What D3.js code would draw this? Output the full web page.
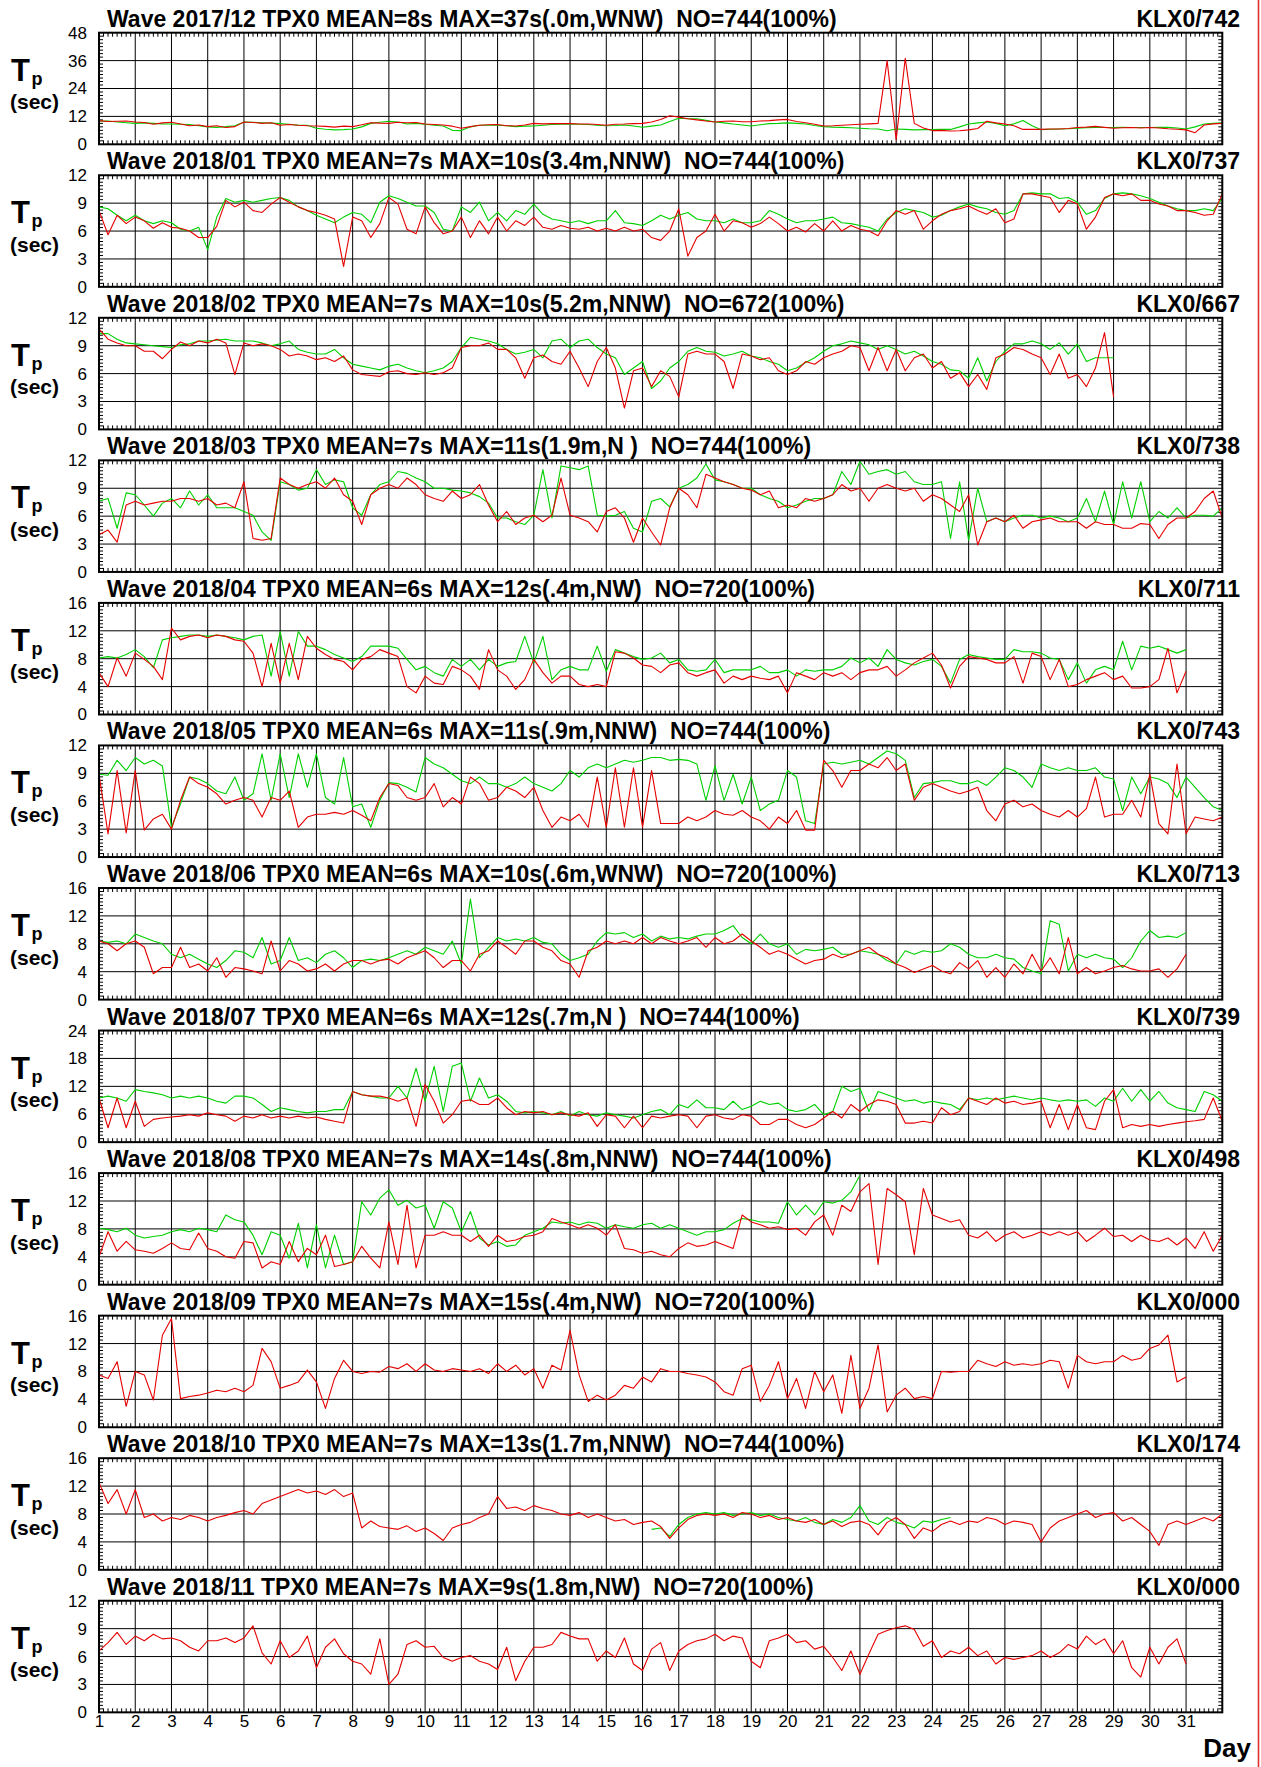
<!DOCTYPE html>
<html><head><meta charset="utf-8">
<script src="https://cdn.jsdelivr.net/npm/d3@7"></script>
<style>
body{margin:0;background:#fff;}
svg text{font-family:"Liberation Sans",Arial,Helvetica,sans-serif;}
</style></head><body>
<svg id="chart" width="1261" height="1767"></svg>
<script>
// ---- Data: peak period Tp (sec), sampled every 6 hours (0.25 day) from day 1 ----
const monthTitles = [
  "Wave 2017/12 TPX0 MEAN=8s MAX=37s(.0m,WNW)  NO=744(100%)",
  "Wave 2018/01 TPX0 MEAN=7s MAX=10s(3.4m,NNW)  NO=744(100%)",
  "Wave 2018/02 TPX0 MEAN=7s MAX=10s(5.2m,NNW)  NO=672(100%)",
  "Wave 2018/03 TPX0 MEAN=7s MAX=11s(1.9m,N )  NO=744(100%)",
  "Wave 2018/04 TPX0 MEAN=6s MAX=12s(.4m,NW)  NO=720(100%)",
  "Wave 2018/05 TPX0 MEAN=6s MAX=11s(.9m,NNW)  NO=744(100%)",
  "Wave 2018/06 TPX0 MEAN=6s MAX=10s(.6m,WNW)  NO=720(100%)",
  "Wave 2018/07 TPX0 MEAN=6s MAX=12s(.7m,N )  NO=744(100%)",
  "Wave 2018/08 TPX0 MEAN=7s MAX=14s(.8m,NNW)  NO=744(100%)",
  "Wave 2018/09 TPX0 MEAN=7s MAX=15s(.4m,NW)  NO=720(100%)",
  "Wave 2018/10 TPX0 MEAN=7s MAX=13s(1.7m,NNW)  NO=744(100%)",
  "Wave 2018/11 TPX0 MEAN=7s MAX=9s(1.8m,NW)  NO=720(100%)"
];
const stationCodes = ["KLX0/742","KLX0/737","KLX0/667","KLX0/738","KLX0/711","KLX0/743",
                      "KLX0/713","KLX0/739","KLX0/498","KLX0/000","KLX0/174","KLX0/000"];
const yMaxima = [48,12,12,12,16,12,16,24,16,16,16,12];
const dayTicks = d3.range(1,32);

const dec17Red = [10.2,9.8,9.9,10.0, 9.6,9.4,8.6,9.2, 9.5,8.7,8.0,8.3, 7.6,8.0,7.2,7.6, 9.6,9.4,9.0,9.3,
 8.2,8.5,8.2,8.0, 7.9,7.7,7.4,7.8, 7.6,8.4,9.3,9.1, 9.0,9.5,9.3,9.4, 8.7,8.5,8.3,7.8,
 6.9,7.6,8.2,8.4, 8.5,8.0,7.9,8.3, 9.0,8.8,8.9,8.9, 8.9,8.7,8.7,8.5, 8.2,8.6,8.7,8.9,
 9.0,9.6,10.7,12.3, 11.7,11.0,10.5,10.0, 9.6,9.9,10.0,9.7, 9.7,10.0,10.2,10.5, 10.7,9.8,9.3,8.6,
 7.9,8.0,8.2,8.4, 8.6,8.8,9.0,36.0, 2.0,37.0,9.0,7.0, 5.9,6.0,5.7,5.8, 6.2,6.8,9.9,9.2,
 8.7,8.0,6.4,6.5, 6.4,6.6,6.6,6.8, 7.2,7.4,7.7,7.3, 6.9,7.1,7.2,7.0, 7.2,7.0,6.7,6.5,
 6.2,5.0,8.3,8.8, 9.0];
const dec17Green = [9.9,10.0,9.6,9.3, 9.0,9.2,9.0,8.8, 8.7,8.6,8.5,8.0, 7.5,7.3,7.6,8.0, 9.6,9.5,9.3,9.1,
 8.9,8.6,8.2,8.2, 6.9,6.5,6.2,6.3, 6.6,7.5,9.0,9.5, 9.9,9.6,8.7,9.0, 8.6,8.2,7.9,6.0,
 5.9,7.5,8.2,8.2, 8.2,8.0,7.6,7.8, 7.9,8.2,8.5,8.6, 8.7,8.6,8.5,8.2, 8.0,8.1,8.3,7.9,
 7.3,7.8,8.3,9.8, 11.2,11.0,11.0,10.3, 9.6,9.2,8.7,8.3, 7.9,8.4,8.9,9.0, 9.2,9.0,8.7,8.1,
 7.6,7.4,7.3,7.1, 6.9,6.7,6.6,5.8, 6.6,6.4,6.2,6.3, 6.3,6.4,6.4,7.5, 8.7,9.2,9.6,9.0,
 8.0,8.8,10.2,8.0, 6.3,6.5,6.6,6.7, 6.9,7.1,7.3,7.2, 7.2,7.3,7.2,7.2, 7.2,7.3,7.3,7.0,
 6.6,7.5,8.7,9.0, 9.2];

const jan18Red = [8.2,5.6,7.7,6.8, 7.5,7.1,6.3,6.9, 6.4,6.3,6.0,5.3, 5.3,6.5,9.3,8.6, 9.1,8.2,8.0,8.9,
 9.6,9.1,8.6,8.2, 8.0,7.7,7.3,2.2, 7.5,7.1,5.3,6.8, 9.6,8.9,6.2,5.7, 8.6,6.9,5.7,6.0,
 7.5,5.3,7.1,5.7, 7.5,6.0,7.1,6.6, 7.5,6.4,6.2,6.6, 6.3,6.2,6.4,6.0, 6.3,6.0,6.4,6.0,
 6.2,5.3,5.0,6.0, 8.4,3.3,5.3,6.0, 7.8,6.0,7.1,6.9, 6.4,6.8,7.5,6.8, 6.0,6.4,5.9,6.8,
 6.0,7.1,6.0,6.6, 6.2,6.0,5.5,7.1, 8.2,7.8,8.2,6.2, 7.1,7.8,8.2,8.4, 8.7,8.2,7.8,8.4,
 6.9,7.3,10.0,10.0, 9.8,9.6,8.0,9.3, 8.9,6.2,7.5,9.6, 10.0,9.8,10.0,9.3, 9.3,8.9,8.7,8.2,
 8.2,8.0,7.7,7.8, 10.0];
const jan18Green = [8.6,8.4,7.7,7.1, 7.7,7.1,6.8,7.1, 6.9,6.2,6.0,6.4, 4.0,7.5,9.5,9.1, 9.3,9.1,9.3,9.5,
 9.6,9.3,8.6,8.2, 7.7,7.3,6.9,7.5, 8.0,7.8,6.9,9.1, 9.8,9.5,9.1,8.7, 8.7,8.0,6.2,6.0,
 8.6,8.0,9.1,7.1, 8.0,7.1,8.2,7.8, 8.9,7.8,7.3,7.1, 6.9,7.1,6.8,7.1, 7.1,8.2,6.9,6.8,
 6.6,7.1,7.7,7.3, 7.7,8.0,7.3,7.1, 7.1,6.9,7.3,6.9, 6.9,7.1,8.2,7.8, 7.3,6.9,7.1,7.1,
 7.3,7.5,6.9,6.8, 6.6,6.4,6.0,7.3, 8.0,8.4,8.2,8.0, 7.5,7.7,8.2,8.6, 8.9,8.6,8.4,8.0,
 7.8,8.2,10.0,10.1, 10.0,10.0,9.5,9.6, 9.1,7.8,8.2,9.5, 10.0,10.1,10.0,9.8, 9.5,9.1,8.7,8.4,
 8.2,8.2,8.4,8.2, 9.5];

const feb18Red = [10.8,9.7,9.3,9.0, 9.0,8.4,8.4,7.6, 8.6,9.4,9.0,9.5, 9.3,9.7,9.3,5.9, 9.3,9.0,9.2,9.0,
 8.6,7.9,8.1,7.9, 7.5,7.7,7.3,7.9, 6.4,5.9,5.8,5.7, 6.2,6.3,6.0,5.9, 6.1,5.9,6.1,6.6,
 8.8,9.0,9.0,9.3, 8.6,8.6,7.7,5.5, 7.7,8.0,7.3,7.0, 8.4,6.6,4.6,7.3, 8.8,6.6,2.3,6.3,
 6.6,4.6,6.3,5.7, 3.5,8.1,8.4,8.1, 8.1,7.3,4.4,8.1, 7.9,7.5,7.7,6.3, 5.9,6.3,7.3,7.0,
 7.7,8.1,8.4,9.0, 8.8,6.3,8.8,6.3, 8.6,6.3,7.7,8.1, 6.6,7.3,5.5,6.1, 4.6,5.9,4.3,7.7,
 8.1,8.8,8.6,8.1, 7.7,5.9,8.1,5.5, 5.9,4.6,6.6,10.4, 3.5];
const feb18Green = [10.3,10.3,9.7,9.3, 9.2,9.1,9.0,8.9, 8.8,9.1,9.2,9.5, 9.5,9.6,9.7,9.5, 9.5,9.5,9.3,9.0,
 9.2,9.5,8.6,8.3, 8.1,8.1,8.6,7.7, 7.0,6.8,6.6,6.4, 6.8,7.0,6.6,6.3, 6.1,6.3,6.6,7.3,
 8.8,9.9,9.7,9.5, 9.2,8.6,8.1,8.3, 8.6,7.7,9.5,9.7, 8.8,9.5,9.7,8.8, 8.1,7.7,5.9,6.6,
 7.3,4.4,5.2,6.6, 7.3,8.4,8.8,8.4, 8.3,7.9,8.1,8.4, 7.9,7.7,7.3,7.0, 6.3,6.6,7.2,7.7,
 8.4,9.0,9.2,9.5, 9.3,9.1,8.6,9.0, 8.6,8.1,8.4,7.9, 7.3,7.0,6.4,6.3, 5.5,7.7,5.2,7.3,
 8.4,9.2,9.2,9.5, 9.2,8.6,9.3,8.1, 9.2,7.3,7.7,7.7, 7.7];

const mar18Red = [4.0,4.5,3.2,7.2, 7.6,7.2,7.4,7.6, 7.6,7.9,7.9,7.6, 7.9,7.2,7.4,6.9, 9.7,3.6,3.4,3.6,
 10.1,9.4,9.0,9.4, 9.7,9.0,10.1,8.3, 7.6,5.1,8.3,9.0, 9.4,9.0,10.1,9.4, 8.3,7.9,7.6,8.7,
 7.9,8.3,9.4,7.2, 5.4,6.5,5.1,5.8, 6.1,5.4,6.1,10.1, 6.1,5.8,5.4,4.3, 6.5,6.9,5.8,3.2,
 5.8,4.3,2.9,6.9, 9.0,8.3,6.9,10.5, 10.1,9.7,9.4,9.0, 8.8,8.3,8.7,6.9, 7.2,6.9,7.9,7.6,
 7.9,8.3,9.4,8.7, 9.0,7.6,9.0,9.4, 9.0,8.7,9.0,7.6, 8.3,7.9,7.2,6.5, 8.3,2.9,5.4,5.8,
 5.4,6.1,4.7,5.4, 5.6,5.8,5.4,5.4, 5.4,4.7,5.4,5.1, 5.1,4.7,4.7,5.2, 5.1,3.6,5.1,5.8,
 5.8,6.5,7.9,8.7, 5.8];
const mar18Green = [7.6,7.9,4.7,8.5, 8.3,7.2,6.0,7.4, 7.9,6.9,8.7,7.2, 8.3,6.9,6.9,6.9, 6.5,6.1,4.3,3.4,
 9.7,9.4,8.8,9.0, 11.0,9.4,9.9,9.7, 6.9,6.1,8.3,9.4, 9.7,10.8,10.6,10.1, 9.7,9.0,9.0,8.8,
 8.7,8.5,8.1,7.4, 5.8,5.8,5.4,5.1, 6.1,11.0,5.8,11.4, 11.2,11.0,11.4,6.1, 6.0,6.1,6.5,4.7,
 4.3,7.6,7.9,7.0, 9.0,9.4,10.1,11.6, 9.9,9.7,9.4,9.0, 9.0,8.3,7.9,7.6, 6.9,7.2,7.6,7.9,
 7.9,8.3,10.8,9.4, 11.9,10.5,10.8,11.0, 10.5,10.8,9.7,9.4, 9.4,9.7,3.6,9.7, 3.4,9.0,5.4,5.8,
 5.4,5.8,6.1,6.1, 5.8,6.0,5.8,5.4, 5.8,7.9,5.4,8.7, 5.1,9.7,5.8,9.7, 5.4,6.5,5.8,6.9,
 5.8,6.1,6.1,6.0, 6.9];

const apr18Red = [6.0,4.0,8.1,5.5, 8.8,7.9,6.9,5.0, 12.4,10.7,11.2,11.4, 11.0,11.4,11.2,10.7, 10.5,8.8,4.0,10.2,
 4.5,10.2,5.0,11.2, 9.5,8.6,7.9,7.6, 6.4,7.9,8.3,9.3, 8.8,8.3,4.0,3.1, 5.5,4.5,4.3,6.9,
 6.4,5.5,3.6,9.3, 6.4,5.5,3.6,5.0, 7.9,6.0,4.5,5.5, 5.5,4.3,4.0,4.3, 4.0,9.0,8.8,8.1,
 7.1,6.9,6.0,7.1, 7.4,6.0,5.5,6.0, 6.4,4.5,5.5,5.0, 5.5,5.2,5.0,5.5, 3.1,6.0,5.5,5.0,
 6.0,5.5,6.0,5.0, 6.0,6.4,6.4,6.9, 5.5,6.4,7.4,8.1, 8.8,7.1,3.8,6.9, 8.3,8.1,7.9,7.4,
 7.4,8.3,4.5,8.8, 8.3,5.0,7.9,4.0, 4.3,5.0,5.5,6.0, 5.0,5.5,3.8,3.8, 4.0,5.0,9.5,3.1,
 6.2];
const apr18Green = [8.1,8.3,8.1,8.6, 9.3,8.3,6.7,10.7, 11.0,11.2,11.4,11.4, 11.2,11.4,11.2,11.0, 10.7,11.2,11.4,5.5,
 11.9,5.5,11.9,9.8, 9.8,9.3,8.6,8.1, 7.6,8.3,9.8,9.8, 9.8,9.5,7.9,6.4, 6.9,6.0,5.5,7.9,
 6.9,7.9,6.4,7.9, 6.9,7.4,7.6,11.2, 7.4,11.2,5.0,6.4, 6.9,6.4,6.4,9.8, 6.2,9.3,8.8,8.3,
 7.9,8.1,8.8,7.4, 7.9,6.4,6.2,6.4, 7.9,6.0,6.4,6.4, 6.4,6.9,6.0,6.0, 6.4,5.5,6.4,6.2,
 6.4,6.4,6.9,8.1, 7.4,8.1,6.9,9.3, 7.9,7.4,7.1,7.6, 7.9,6.9,4.5,7.9, 8.6,8.3,8.1,7.9,
 7.9,9.3,9.0,9.0, 8.8,8.1,7.9,5.0, 7.4,4.5,6.4,6.9, 6.4,10.5,6.4,9.8, 9.5,9.8,9.3,8.8,
 9.3];

const may18Red = [8.9,2.5,9.3,2.6, 9.3,2.9,4.1,4.6, 3.0,6.1,8.6,7.9, 7.5,6.8,5.7,6.1, 6.4,6.1,4.3,6.4,
 6.1,7.1,3.2,4.3, 4.6,4.6,4.8,4.6, 5.0,4.5,3.9,6.4, 7.9,7.7,6.4,6.1, 6.4,7.9,5.4,6.4,
 5.7,8.6,7.9,6.1, 6.4,7.5,7.1,6.4, 7.5,5.0,3.2,4.3, 3.9,4.6,3.2,8.6, 3.2,9.6,3.2,9.6,
 3.2,9.3,3.6,3.6, 3.6,4.3,3.9,4.3, 5.0,4.6,4.5,5.0, 4.3,3.9,3.0,4.3, 3.6,5.0,2.9,2.9,
 10.4,9.3,7.5,9.3, 9.3,10.0,9.6,10.7, 9.3,10.0,6.1,7.5, 7.9,7.5,7.1,6.8, 7.1,7.5,5.0,3.9,
 5.7,6.1,5.4,5.7, 5.0,4.6,4.3,5.0, 4.3,5.2,8.6,4.3, 4.6,4.6,6.1,4.3, 8.9,3.6,2.5,10.0,
 2.5,4.3,4.1,3.9, 4.3];
const may18Green = [8.9,8.8,10.4,9.3, 10.7,10.0,10.4,9.8, 3.2,5.7,8.6,8.4, 7.9,7.1,6.8,8.6, 6.1,6.8,11.1,6.1,
 11.1,6.4,11.1,7.5, 11.1,6.4,5.7,10.7, 5.4,5.7,3.2,6.1, 8.0,7.9,7.5,7.0, 10.7,10.0,9.6,8.9,
 8.2,7.9,8.6,7.9, 7.9,7.5,7.9,8.6, 7.9,7.5,7.1,7.9, 9.3,8.6,9.6,10.0, 9.6,10.0,10.4,10.2,
 10.4,10.7,10.7,10.4, 10.5,10.4,10.0,6.1, 9.8,6.1,8.9,5.7, 8.6,5.0,5.7,6.1, 9.3,8.6,3.9,3.6,
 10.0,10.2,10.0,10.2, 10.4,10.0,10.7,11.4, 11.1,10.4,6.4,7.9, 8.0,8.2,8.2,7.9, 7.9,8.2,7.7,8.6,
 9.6,9.3,8.6,7.5, 10.0,9.6,9.3,9.6, 9.3,9.3,9.6,8.6, 8.4,5.0,8.6,6.8, 8.6,8.4,7.9,6.4,
 8.6,7.5,6.4,5.4, 5.0];

const jun18Red = [8.4,8.0,7.0,8.0, 8.4,7.5,3.7,4.6, 4.6,7.5,4.6,5.1, 4.1,6.0,3.2,4.6, 4.4,4.1,3.7,8.4,
 4.1,5.6,5.1,4.1, 4.4,5.1,4.1,5.1, 5.6,5.6,5.1,5.6, 5.8,5.1,6.0,6.5, 7.0,6.0,4.6,5.6,
 5.6,4.1,6.5,7.0, 8.4,7.5,6.5,8.4, 8.4,7.5,7.0,5.6, 5.1,3.2,7.0,7.5, 8.4,8.0,8.4,8.0,
 8.9,8.0,8.9,8.4, 8.0,8.4,8.9,7.5, 8.9,8.0,8.4,9.4, 8.4,7.5,6.5,7.0, 6.5,5.8,5.1,5.6,
 5.8,6.5,6.0,6.5, 7.0,7.5,6.5,6.0, 5.1,4.6,3.9,4.4, 4.9,4.1,3.7,5.3, 4.4,5.6,3.2,4.6,
 3.2,5.1,3.7,6.5, 4.1,6.0,3.7,8.9, 3.7,4.6,3.7,4.1, 4.6,4.9,4.4,4.1, 4.1,4.4,3.2,4.4,
 6.5];
const jun18Green = [8.4,8.2,8.4,8.0, 9.4,8.9,8.4,8.0, 6.5,6.0,6.5,5.8, 5.1,4.6,5.6,7.0, 6.8,6.0,8.9,5.1,
 5.6,8.9,5.6,6.0, 5.3,6.5,7.0,6.0, 4.6,5.6,5.8,5.6, 6.0,6.5,7.0,6.5, 7.5,7.0,6.5,8.4,
 5.1,14.4,6.0,7.5, 8.9,8.4,8.7,8.4, 8.9,8.2,8.0,6.5, 5.6,6.0,6.5,8.4, 9.6,9.4,9.6,8.9,
 9.4,8.4,9.1,8.7, 8.9,8.7,9.1,9.4, 9.4,9.9,10.6,8.9, 8.0,9.4,8.0,7.5, 8.0,6.5,7.2,7.0,
 7.2,7.5,6.5,6.5, 7.0,6.8,6.5,5.6, 5.1,7.0,6.5,7.0, 6.8,7.0,8.0,7.5, 6.5,6.0,6.0,6.5,
 6.0,5.8,4.6,4.1, 3.7,11.3,10.8,4.1, 6.5,6.0,6.5,6.0, 5.8,4.6,6.0,8.4, 9.9,8.9,9.1,8.9,
 9.6];

const jul18Red = [9.5,3.1,9.5,3.1, 8.8,3.4,4.9,5.2, 5.4,5.6,5.9,5.6, 6.3,5.9,5.6,4.5, 5.6,5.2,5.9,5.2,
 5.6,5.2,5.6,5.2, 5.4,4.9,4.5,4.1, 10.9,10.2,9.9,9.9, 9.5,8.8,9.5,3.4, 12.4,8.8,4.1,5.9,
 8.8,9.1,8.1,8.1, 9.5,7.4,5.9,6.6, 6.3,6.6,5.9,6.3, 5.9,5.6,6.3,3.4, 5.9,5.6,3.1,5.6,
 3.1,5.6,5.2,5.6, 5.9,5.6,3.1,5.6, 5.9,5.2,4.9,5.9, 5.6,3.8,3.8,4.9, 4.9,3.8,3.1,3.8,
 5.2,6.6,5.2,8.1, 6.6,8.1,9.1,8.8, 8.1,4.1,4.1,4.5, 4.1,7.4,5.9,6.6, 9.5,8.8,8.1,9.5,
 8.4,8.8,8.1,8.4, 8.8,3.1,8.1,2.7, 8.1,3.1,2.7,8.8, 11.3,3.1,3.8,3.4, 3.8,3.4,3.8,4.1,
 4.4,4.6,4.9,9.5, 4.5];
const jul18Green = [9.5,9.9,9.5,8.8, 11.3,10.9,10.6,10.2, 9.5,9.9,9.5,9.9, 9.5,8.8,8.4,9.9, 9.9,9.5,8.1,6.6,
 7.4,7.0,6.6,6.3, 6.6,6.6,7.0,7.0, 10.9,10.2,9.9,9.5, 9.5,12.0,9.5,15.9, 8.8,16.3,6.6,16.3,
 17.0,8.8,13.8,9.5, 10.2,8.8,6.6,6.3, 6.6,6.3,5.9,6.6, 5.6,6.6,5.9,5.6, 6.3,5.9,5.6,5.2,
 5.9,6.6,7.0,5.9, 8.1,7.4,9.1,7.4, 7.4,7.0,8.8,7.0, 7.7,8.8,8.1,8.4, 7.0,6.6,7.0,8.1,
 5.9,6.6,12.0,10.9, 11.6,6.6,10.9,10.2, 9.5,8.8,9.1,8.4, 8.8,8.4,8.1,7.0, 9.5,9.1,9.5,9.1,
 9.5,9.9,9.5,9.1, 9.5,9.1,8.8,9.1, 8.8,9.1,7.7,9.5, 8.8,11.6,8.8,11.3, 8.8,10.9,8.4,7.4,
 7.0,6.6,10.9,10.2, 8.8];

const aug18Red = [4.0,7.6,4.8,6.2, 5.0,4.8,4.5,5.2, 6.0,5.2,5.0,7.4, 5.2,4.8,4.0,3.8, 6.2,6.0,2.4,3.3,
 2.9,6.2,3.3,5.2, 4.3,7.1,2.6,2.9, 3.3,5.5,3.8,2.4, 9.0,2.9,11.4,2.4, 7.1,7.1,7.6,7.1,
 7.1,6.2,7.1,5.5, 7.1,6.2,6.4,6.9, 7.1,7.6,9.5,9.0, 8.6,8.1,8.6,8.1, 7.1,8.6,5.2,5.0,
 4.5,4.8,4.3,4.0, 5.2,6.0,5.5,5.7, 6.2,5.7,5.2,10.0, 9.0,8.6,8.1,8.3, 7.9,8.1,7.1,9.0,
 10.0,7.1,11.4,10.5, 13.3,14.5,2.9,13.8, 12.9,11.9,4.3,13.8, 10.0,9.5,9.0,9.3, 7.1,6.7,7.6,6.2,
 7.1,7.6,6.7,7.1, 7.6,7.1,7.6,7.1, 7.6,6.2,7.1,8.1, 6.9,7.1,6.2,7.1, 6.4,6.2,6.7,5.7,
 6.7,5.2,7.6,4.8, 7.1];
const aug18Green = [8.1,7.9,7.6,8.1, 7.1,6.7,6.9,7.1, 7.6,7.9,7.6,8.1, 7.9,7.6,10.0,9.3, 9.0,7.1,4.3,7.6,
 7.1,3.8,8.8,2.4, 8.6,2.4,7.1,2.9, 3.3,11.9,10.0,12.4, 13.6,11.4,12.1,11.0, 11.4,8.1,11.9,11.0,
 7.6,10.5,6.7,5.7, 6.2,5.5,5.7,7.1, 7.6,8.1,9.0,8.8, 9.0,8.6,9.0,8.8, 8.1,8.6,8.3,8.1,
 8.6,8.8,8.1,8.6, 8.1,7.6,7.1,7.6, 7.6,7.9,8.8,9.5, 9.3,9.0,9.0,8.8, 11.9,10.0,11.4,10.0,
 11.9,11.7,12.1,13.3, 15.7];

const sep18Red = [7.5,7.0,9.4,3.0, 8.0,7.5,3.9,13.2, 15.6,4.1,4.4,4.6, 4.9,5.3,5.1,5.6, 5.1,6.0,11.3,9.4,
 5.6,6.0,6.5,8.2, 6.5,2.7,7.0,9.6, 8.0,7.7,8.0,7.9, 8.7,8.4,9.1,8.0, 9.1,8.2,8.0,8.4,
 8.2,8.0,8.4,7.7, 9.1,8.0,8.9,7.5, 8.4,5.6,8.9,8.2, 13.9,7.5,3.7,4.6, 3.9,4.6,6.0,5.6,
 7.2,6.5,8.4,8.0, 8.0,7.7,7.5,7.2, 6.5,5.1,4.6,8.4, 8.9,3.7,6.0,9.4, 4.1,7.0,2.7,8.0,
 5.1,7.5,2.0,10.3, 2.7,5.6,11.8,2.2, 4.6,5.6,4.1,4.4, 4.1,8.0,7.9,8.0, 8.0,9.6,9.1,8.7,
 9.4,8.9,9.1,8.9, 9.1,9.6,9.4,5.6, 10.3,9.4,9.1,9.4, 9.4,10.3,9.6,9.9, 11.3,11.8,13.2,6.5,
 7.2];

const oct18Red = [12.5,9.5,11.5,8.0, 11.5,7.5,8.0,7.0, 7.5,7.2,7.8,7.5, 7.0,7.5,7.8,8.2, 8.5,8.0,9.5,10.0,
 10.5,11.0,11.5,11.0, 11.3,10.8,11.5,10.5, 11.0,6.0,7.0,6.2, 6.0,5.8,6.3,5.5, 6.0,5.2,4.2,6.0,
 6.5,6.8,7.5,8.0, 10.5,8.8,9.0,8.5, 9.2,8.8,8.5,8.0, 7.8,8.2,7.5,8.0, 7.5,7.0,7.2,6.5,
 6.8,7.0,6.2,4.5, 6.0,7.2,7.8,8.0, 7.8,8.0,7.5,8.2, 8.0,7.5,7.8,7.2, 7.5,7.0,6.8,7.2,
 6.5,7.0,6.2,6.8, 7.0,6.5,5.0,6.8, 7.5,6.5,4.5,6.0, 5.5,6.5,7.0,6.5, 7.0,6.8,7.5,7.2,
 6.5,7.0,6.8,6.5, 4.0,6.0,7.0,7.5, 8.0,8.5,7.5,8.0, 8.2,7.0,7.5,6.5, 5.5,3.5,6.5,7.0,
 6.5,7.0,7.5,7.0, 8.0];
const oct18GreenStart = 16.25;
const oct18Green = [5.8,6.0,4.8, 6.5,7.5,8.0,8.2, 8.0,8.2,7.8,8.0, 8.2,7.8,8.0,7.5, 7.2,7.0,7.5,6.8,
 6.5,7.2,6.8,7.5, 9.2,7.0,6.5,7.5, 6.8,6.5,6.0,7.0, 6.8,7.2,7.5];

const nov18Red = [6.6,7.5,8.6,7.3, 8.2,7.7,8.4,7.9, 8.0,7.7,7.0,6.6, 7.7,7.7,8.0,7.5, 8.0,9.3,6.4,5.2,
 7.7,5.9,6.6,8.2, 4.8,7.0,7.9,6.3, 5.5,5.2,4.1,7.9, 3.0,4.1,7.3,7.7, 7.0,7.1,5.9,5.5,
 5.9,6.1,5.5,5.2, 4.6,7.0,3.4,5.5, 7.0,7.0,7.3,8.6, 8.2,7.9,7.9,5.5, 6.6,5.9,8.0,5.2,
 4.5,6.8,7.5,4.5, 6.6,7.3,7.7,7.9, 8.4,7.7,8.2,8.0, 5.5,4.8,7.7,8.0, 8.4,7.5,7.7,6.8,
 7.1,5.9,4.5,6.6, 4.1,6.3,8.4,8.8, 9.1,9.3,8.9,7.1, 7.7,5.9,6.6,6.3, 7.0,6.1,6.6,5.2,
 5.9,5.7,5.9,6.1, 6.6,5.9,6.4,7.3, 6.8,8.2,7.3,7.9, 6.3,7.7,4.8,3.8, 7.0,5.2,7.0,7.9,
 5.2];

// ---- series table built from the arrays above ----
const redSeries = [dec17Red, jan18Red, feb18Red, mar18Red, apr18Red, may18Red, jun18Red, jul18Red, aug18Red, sep18Red, oct18Red, nov18Red];
const greenSeries = [dec17Green, jan18Green, feb18Green, mar18Green, apr18Green, may18Green, jun18Green, jul18Green, aug18Green, null, oct18Green, null];
const greenStarts = [1,1,1,1,1,1,1,1,1,1,oct18GreenStart,1];
const sampleStep = 0.25; // days

// ---- layout ----
const svg = d3.select("#chart");
const X0 = 99, X1 = 1222.3, TOP0 = 32.7, PITCH = 142.55, PH = 111.6;
const x = d3.scaleLinear().domain([1, 32]).range([X0, X1]);
const RED = "#e60000", GREEN = "#00d000";

// right red page border
svg.append("line").attr("x1",1258.5).attr("x2",1258.5).attr("y1",0).attr("y2",1767)
  .attr("stroke","#e03030").attr("stroke-width",1.6);

monthTitles.forEach((title, i) => {
  const top = TOP0 + i * PITCH, bottom = top + PH;
  const ymax = yMaxima[i];
  const y = d3.scaleLinear().domain([0, ymax]).range([bottom, top]);
  const majors = d3.range(0, 5).map(k => k * ymax / 4);
  const g = svg.append("g");

  // horizontal gridlines
  g.selectAll("line.hg").data(majors.slice(1, 4)).join("line")
    .attr("x1", X0).attr("x2", X1).attr("y1", d => y(d)).attr("y2", d => y(d))
    .attr("stroke", "#000").attr("stroke-width", 1);
  // vertical day gridlines
  g.selectAll("line.vg").data(d3.range(2, 32)).join("line")
    .attr("x1", d => x(d)).attr("x2", d => x(d)).attr("y1", top).attr("y2", bottom)
    .attr("stroke", "#000").attr("stroke-width", 1);

  // minor ticks along x (every 3 h) on top and bottom edges
  const xMinor = d3.range(1, 32, 1/8).filter((d, k) => k % 8 !== 0);
  g.selectAll("line.xt").data(xMinor).join("line")
    .attr("x1", d => x(d)).attr("x2", d => x(d)).attr("y1", top).attr("y2", top + 4)
    .attr("stroke", "#000").attr("stroke-width", 1);
  g.selectAll("line.xb").data(xMinor).join("line")
    .attr("x1", d => x(d)).attr("x2", d => x(d)).attr("y1", bottom - 4).attr("y2", bottom)
    .attr("stroke", "#000").attr("stroke-width", 1);
  // minor ticks along y on left and right edges
  const yMinor = d3.range(0, ymax, ymax / 32).filter((d, k) => k % 8 !== 0);
  g.selectAll("line.yl").data(yMinor).join("line")
    .attr("x1", X0).attr("x2", X0 + 4).attr("y1", d => y(d)).attr("y2", d => y(d))
    .attr("stroke", "#000").attr("stroke-width", 1);
  g.selectAll("line.yr").data(yMinor).join("line")
    .attr("x1", X1 - 4).attr("x2", X1).attr("y1", d => y(d)).attr("y2", d => y(d))
    .attr("stroke", "#000").attr("stroke-width", 1);

  // data lines
  const line = d3.line().x(d => x(d[0])).y(d => y(d[1]));
  const gs = greenSeries[i];
  if (gs) {
    const pts = gs.map((v, k) => [greenStarts[i] + k * sampleStep, v]);
    g.append("path").datum(pts).attr("d", line).attr("fill", "none")
      .attr("stroke", GREEN).attr("stroke-width", 1.1).attr("stroke-linejoin", "round");
  }
  const rpts = redSeries[i].map((v, k) => [1 + k * sampleStep, v]);
  g.append("path").datum(rpts).attr("d", line).attr("fill", "none")
    .attr("stroke", RED).attr("stroke-width", 1.1).attr("stroke-linejoin", "round");

  // frame
  g.append("rect").attr("x", X0).attr("y", top).attr("width", X1 - X0).attr("height", PH)
    .attr("fill", "none").attr("stroke", "#000").attr("stroke-width", 2);

  // y axis labels
  const ya = g.append("g").attr("transform", `translate(${X0},0)`)
    .call(d3.axisLeft(y).tickValues(majors).tickFormat(d3.format("d")).tickSize(0).tickPadding(12));
  ya.select(".domain").remove();
  ya.selectAll("text").attr("font-size", 17).attr("fill", "#000")
    .style("font-family", '"Liberation Sans", Arial, sans-serif');

  // titles
  g.append("text").attr("x", 107).attr("y", top - 6).attr("font-size", 23).attr("font-weight", "bold")
    .style("white-space", "pre").attr("xml:space", "preserve").text(title);
  g.append("text").attr("x", 1240).attr("y", top - 6).attr("font-size", 23).attr("font-weight", "bold")
    .attr("text-anchor", "end").text(stationCodes[i]);

  // Tp (sec) label
  g.append("text").attr("x", 11).attr("y", top + 48).attr("font-size", 31).attr("font-weight", "bold").text("T");
  g.append("text").attr("x", 31.5).attr("y", top + 52).attr("font-size", 18).attr("font-weight", "bold").text("p");
  g.append("text").attr("x", 10).attr("y", top + 76.5).attr("font-size", 21).attr("font-weight", "bold").text("(sec)");

  // x axis labels on the last panel
  if (i === monthTitles.length - 1) {
    const xa = g.append("g").attr("transform", `translate(0,${bottom})`)
      .call(d3.axisBottom(x).tickValues(dayTicks).tickFormat(d3.format("d")).tickSize(0).tickPadding(3));
    xa.select(".domain").remove();
    xa.selectAll("text").attr("font-size", 17).attr("fill", "#000")
      .style("font-family", '"Liberation Sans", Arial, sans-serif');
  }
});

svg.append("text").attr("x", 1251).attr("y", 1757).attr("text-anchor", "end")
  .attr("font-size", 26).attr("font-weight", "bold").text("Day");
</script>
</body></html>
